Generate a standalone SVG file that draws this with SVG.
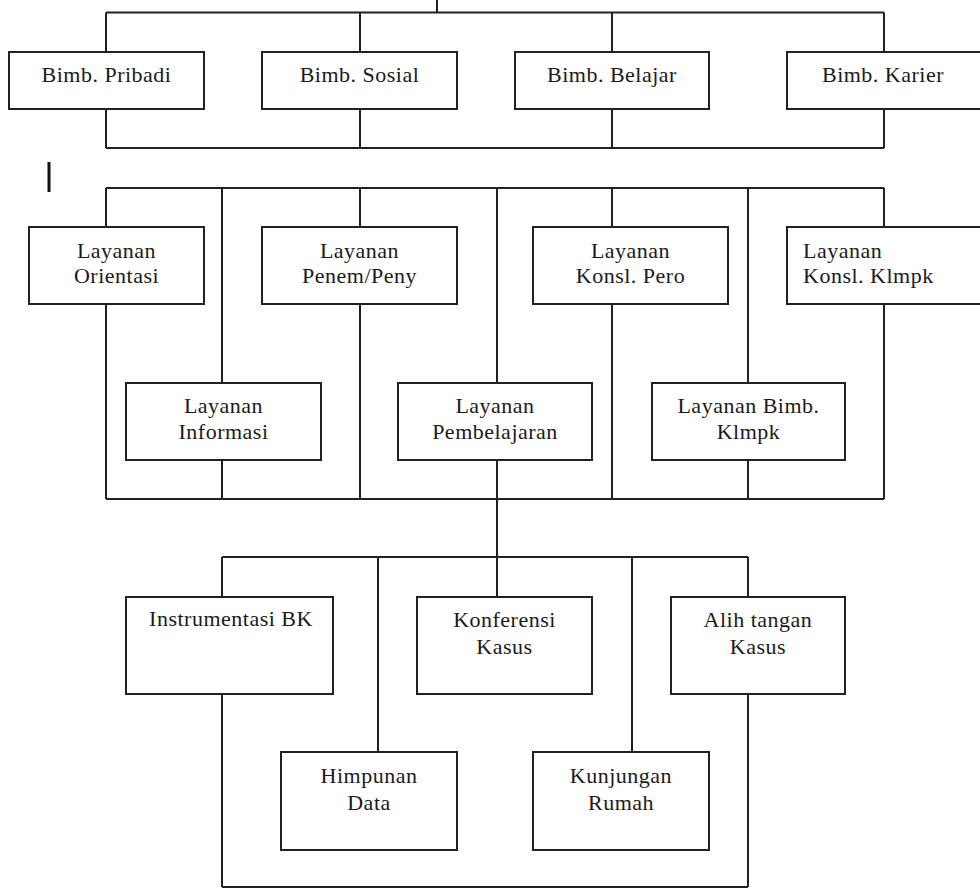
<svg xmlns="http://www.w3.org/2000/svg" width="980" height="888" viewBox="0 0 980 888">
<style>
.box{fill:#fff;stroke:#222;stroke-width:2}
.ln{fill:none;stroke:#222;stroke-width:2}
text{font-family:"Liberation Serif","Times New Roman",serif;font-size:22px;fill:#1a1a1a;text-anchor:middle;letter-spacing:0.5px}
</style>
<rect width="980" height="888" fill="#fff"/>
<g id="connectors">
<path class="ln" d="M437 0V12.5M106 12.5H884M106 12.5V52M360 12.5V52M612 12.5V52M884 12.5V52M106 109V148M360 109V148M612 109V148M884 109V148M106 148H884"/>
<path class="ln" d="M106 188H884M106 188V227M106 304V499M222 188V383M222 460V499M360 188V227M360 304V499M497 188V383M497 460V597M612 188V227M612 304V499M748 188V383M748 460V499M884 188V227M884 304V499M106 499H884"/>
<path class="ln" d="M222 557H748M222 557V597M222 694V887M378 557V752M632 557V752M748 557V597M748 694V887M222 887H748"/>
</g>
<rect x="47.5" y="162" width="3" height="30" fill="#111"/>
<g id="bimb-pribadi"><rect class="box" x="9" y="52" width="195" height="57"/><text x="106.5" y="82">Bimb. Pribadi</text></g>
<g id="bimb-sosial"><rect class="box" x="262" y="52" width="195" height="57"/><text x="359.5" y="82">Bimb. Sosial</text></g>
<g id="bimb-belajar"><rect class="box" x="515" y="52" width="194" height="57"/><text x="612" y="82">Bimb. Belajar</text></g>
<g id="bimb-karier"><rect class="box" x="787" y="52" width="200" height="57"/><text x="883" y="82">Bimb. Karier</text></g>
<g id="layanan-orientasi"><rect class="box" x="29" y="227" width="175" height="77"/><text x="116.5" y="258">Layanan</text><text x="116.5" y="283">Orientasi</text></g>
<g id="layanan-penem"><rect class="box" x="262" y="227" width="195" height="77"/><text x="359.5" y="258">Layanan</text><text x="359.5" y="283">Penem/Peny</text></g>
<g id="layanan-konsl-pero"><rect class="box" x="533" y="227" width="195" height="77"/><text x="630.5" y="258">Layanan</text><text x="630.5" y="283">Konsl. Pero</text></g>
<g id="layanan-konsl-klmpk"><rect class="box" x="787" y="227" width="200" height="77"/><text x="803" y="258" style="text-anchor:start">Layanan</text><text x="803" y="283" style="text-anchor:start">Konsl. Klmpk</text></g>
<g id="layanan-informasi"><rect class="box" x="126" y="383" width="195" height="77"/><text x="223.5" y="413">Layanan</text><text x="223.5" y="439">Informasi</text></g>
<g id="layanan-pembelajaran"><rect class="box" x="398" y="383" width="194" height="77"/><text x="495" y="413">Layanan</text><text x="495" y="439">Pembelajaran</text></g>
<g id="layanan-bimb-klmpk"><rect class="box" x="652" y="383" width="193" height="77"/><text x="748.5" y="413">Layanan Bimb.</text><text x="748.5" y="439">Klmpk</text></g>
<g id="instrumentasi-bk"><rect class="box" x="126" y="597" width="207" height="97"/><text x="231" y="626">Instrumentasi BK</text></g>
<g id="konferensi-kasus"><rect class="box" x="417" y="597" width="175" height="97"/><text x="504.5" y="627">Konferensi</text><text x="504.5" y="654">Kasus</text></g>
<g id="alih-tangan-kasus"><rect class="box" x="671" y="597" width="174" height="97"/><text x="758" y="627">Alih tangan</text><text x="758" y="654">Kasus</text></g>
<g id="himpunan-data"><rect class="box" x="281" y="752" width="176" height="98"/><text x="369" y="783">Himpunan</text><text x="369" y="810">Data</text></g>
<g id="kunjungan-rumah"><rect class="box" x="533" y="752" width="176" height="98"/><text x="621" y="783">Kunjungan</text><text x="621" y="810">Rumah</text></g>
</svg>
